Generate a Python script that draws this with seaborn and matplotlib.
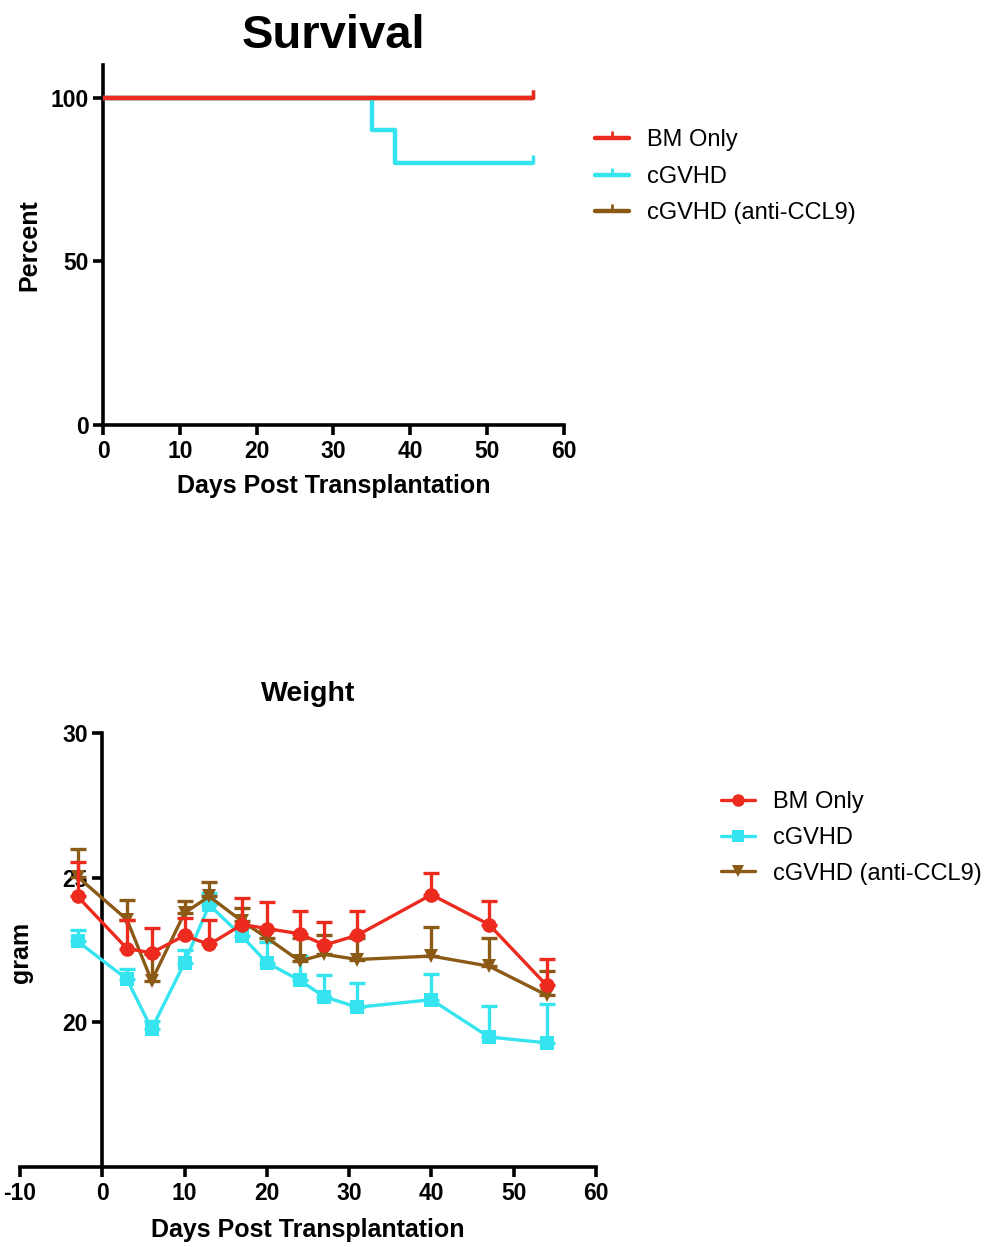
import numpy as np
import pandas as pd
import matplotlib
matplotlib.use("Agg")
import matplotlib.pyplot as plt
from matplotlib.lines import Line2D
import seaborn as sns

# ---------------- data ----------------
groups = ["BM Only", "cGVHD", "cGVHD (anti-CCL9)"]
colors = {"BM Only": "#EC2A1E", "cGVHD": "#35E4EE", "cGVHD (anti-CCL9)": "#8B5A17"}

# survival (Kaplan-Meier steps)
surv_bm_t = [0, 56]
surv_bm_p = [100, 100]
surv_cg_t = [0, 35, 38, 56]
surv_cg_p = [100, 90, 80, 80]
surv_ccl_t = [0, 56]
surv_ccl_p = [100, 100]

# weight
days = [-3, 3, 6, 10, 13, 17, 20, 24, 27, 31, 40, 47, 54]
w_bm = [24.35, 22.55, 22.40, 23.00, 22.69, 23.38, 23.24, 23.06, 22.67, 23.01, 24.41, 23.38, 21.28]
w_bm_sem = [1.20, 0.97, 0.85, 0.60, 0.83, 0.93, 0.91, 0.80, 0.79, 0.82, 0.76, 0.82, 0.92]
w_cg = [22.80, 21.49, 19.77, 22.06, 24.06, 22.97, 22.06, 21.45, 20.88, 20.52, 20.78, 19.49, 19.29]
w_cg_sem = [0.38, 0.34, 0.29, 0.43, 0.40, 0.33, 0.71, 0.85, 0.75, 0.85, 0.88, 1.06, 1.33]
w_ccl = [25.03, 23.55, 21.43, 23.78, 24.35, 23.49, 22.92, 22.12, 22.35, 22.17, 22.29, 21.94, 20.94]
w_ccl_sem = [0.95, 0.66, 0.92, 0.42, 0.51, 0.46, 0.28, 0.80, 0.65, 0.73, 0.99, 0.98, 0.83]

# ---------------- style ----------------
sns.set_style("ticks")
plt.rcParams["font.family"] = ["Liberation Sans", "DejaVu Sans"]
plt.rcParams["axes.unicode_minus"] = False
plt.rcParams["axes.linewidth"] = 2.6
plt.rcParams["axes.edgecolor"] = "black"
plt.rcParams["text.color"] = "black"
plt.rcParams["axes.labelcolor"] = "black"
plt.rcParams["xtick.color"] = "black"
plt.rcParams["ytick.color"] = "black"
plt.rcParams["xtick.major.width"] = 2.6
plt.rcParams["ytick.major.width"] = 2.6
plt.rcParams["xtick.major.size"] = 7
plt.rcParams["ytick.major.size"] = 7

fig = plt.figure(figsize=(10.03, 12.47), dpi=100)

LW = 2.4
tick_fs = 16.5
lab_fs = 18
leg_fs = 17

# ---------------- Survival ----------------
ax1 = fig.add_axes([0.1027, 0.6592, 0.4596, 0.2887])
surv = pd.concat([
    pd.DataFrame({"day": surv_ccl_t, "pct": surv_ccl_p, "group": groups[2]}),
    pd.DataFrame({"day": surv_cg_t, "pct": surv_cg_p, "group": groups[1]}),
    pd.DataFrame({"day": surv_bm_t, "pct": surv_bm_p, "group": groups[0]}),
])
for g in [groups[2], groups[1], groups[0]]:
    d = surv[surv.group == g]
    sns.lineplot(data=d, x="day", y="pct", color=colors[g], drawstyle="steps-post",
                 estimator=None, lw=LW + 0.8, ax=ax1, legend=False, zorder=3)
    ax1.plot(d["day"].iloc[-1:], d["pct"].iloc[-1:], marker=2, ms=6, mew=LW,
             color=colors[g], ls="none", zorder=4, clip_on=False)
ax1.set_xlim(0, 60)
ax1.set_ylim(0, 110)
ax1.set_xticks(range(0, 61, 10))
ax1.set_yticks([0, 50, 100])
sns.despine(ax=ax1)
ax1.set_xlabel("Days Post Transplantation", fontsize=lab_fs, fontweight="bold", labelpad=8)
ax1.set_ylabel("Percent", fontsize=lab_fs, fontweight="bold", labelpad=6)
for lab in ax1.get_xticklabels() + ax1.get_yticklabels():
    lab.set_fontweight("bold")
    lab.set_fontsize(tick_fs)
ax1.set_title("Survival", fontsize=34, fontweight="bold", pad=12)

h1 = [Line2D([], [], color=colors[g], lw=LW + 0.8, marker=2, ms=5, mew=2) for g in groups]
fig.legend(h1, groups, loc="upper left", bbox_to_anchor=(0.584, 0.904), frameon=False,
           fontsize=leg_fs, handlelength=1.45, handletextpad=0.75, labelspacing=0.62,
           borderaxespad=0)

# ---------------- Weight ----------------
ax2 = fig.add_axes([0.0199, 0.0642, 0.5743, 0.3480])
wdf = pd.DataFrame({
    "day": days * 3,
    "gram": w_bm + w_cg + w_ccl,
    "sem": w_bm_sem + w_cg_sem + w_ccl_sem,
    "group": [groups[0]] * len(days) + [groups[1]] * len(days) + [groups[2]] * len(days),
})
markers = {"BM Only": "o", "cGVHD": "s", "cGVHD (anti-CCL9)": "v"}
for g, z in [(groups[1], 3), (groups[2], 4), (groups[0], 5)]:
    d = wdf[wdf.group == g]
    ax2.errorbar(d["day"], d["gram"], yerr=[np.zeros(len(d)), d["sem"]], fmt="none",
                 ecolor=colors[g], elinewidth=LW, capsize=6, capthick=LW, zorder=z)
    sns.lineplot(data=d, x="day", y="gram", color=colors[g], marker=markers[g],
                 markersize=10.5, markeredgewidth=0, lw=LW, estimator=None,
                 ax=ax2, legend=False, zorder=z)
ax2.set_xlim(-10, 60)
ax2.set_ylim(15, 30)
ax2.set_xticks(range(-10, 61, 10))
ax2.set_yticks([20, 25, 30])
ax2.spines["right"].set_visible(False)
ax2.spines["top"].set_visible(False)
ax2.spines["left"].set_position(("data", 0))
ax2.spines["left"].set_bounds(15, 30)
ax2.set_xlabel("Days Post Transplantation", fontsize=lab_fs, fontweight="bold", labelpad=10)
ax2.set_ylabel("")
fig.text(0.021, (1247 - 952) / 1247, "gram", rotation=90, ha="center", va="center",
         fontsize=lab_fs, fontweight="bold")
for lab in ax2.get_xticklabels() + ax2.get_yticklabels():
    lab.set_fontweight("bold")
    lab.set_fontsize(tick_fs)
ax2.set_title("Weight", fontsize=20.5, fontweight="bold", pad=23)

h2 = [Line2D([], [], color=colors[g], lw=LW, marker=markers[g], ms=9, mew=0) for g in groups]
fig.legend(h2, groups, loc="upper left", bbox_to_anchor=(0.709, 0.373), frameon=False,
           fontsize=leg_fs, handlelength=1.45, handletextpad=0.75, labelspacing=0.58,
           borderaxespad=0)

fig.savefig("out.png", dpi=100)
